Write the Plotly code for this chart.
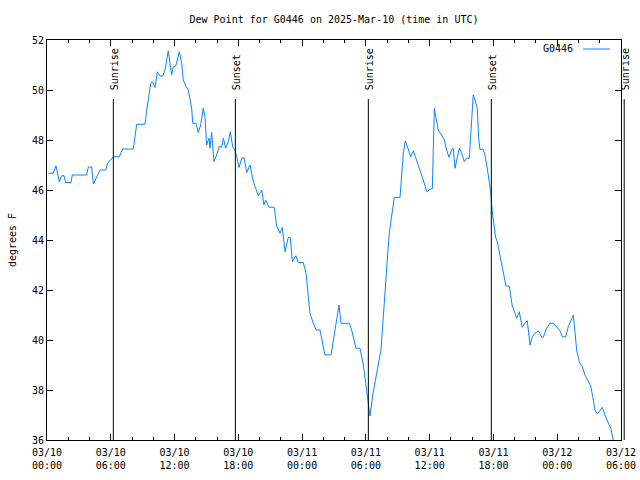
import plotly.graph_objects as go
import pandas as pd

# hours since 2025-03-10 00:00 UTC
hours = [0.12, 0.59, 0.85, 1.16, 1.38, 1.60, 1.76, 2.26, 2.38, 3.73,
         3.89, 4.20, 4.36, 4.83, 4.99, 5.52, 5.71, 6.24, 6.80, 7.12,
         8.12, 8.44, 9.22, 9.38, 9.53, 9.76, 9.91, 10.16, 10.38, 10.63,
         10.88, 11.10, 11.26, 11.41, 11.57, 11.73, 11.88, 12.11, 12.26, 12.45,
         12.67, 12.82, 13.05, 13.29, 13.61, 13.71, 14.02, 14.23, 14.46, 14.70,
         14.86, 15.02, 15.24, 15.33, 15.49, 15.71, 15.96, 16.21, 16.43, 16.59,
         16.81, 17.06, 17.24, 17.47, 17.69, 17.85, 18.06, 18.32, 18.53, 18.79,
         19.10, 19.41, 19.88, 20.20, 20.41, 20.57, 20.88, 21.38, 21.61, 21.92,
         22.14, 22.39, 22.70, 22.89, 23.08, 23.42, 23.64, 24.11, 24.37, 24.58,
         24.74, 25.05, 25.31, 25.68, 25.84, 26.15, 26.72, 26.93, 27.19, 27.47,
         27.66, 28.44, 28.66, 29.07, 29.44, 29.76, 29.98, 30.23, 30.39, 30.64,
         30.86, 31.17, 31.42, 31.64, 31.80, 32.01, 32.20, 32.36, 32.52, 32.67,
         33.21, 33.37, 33.52, 33.71, 33.84, 34.22, 34.46, 34.78, 35.09, 35.40,
         35.72, 36.03, 36.25, 36.34, 36.44, 36.60, 36.81, 37.13, 37.38, 37.60,
         37.82, 38.07, 38.22, 38.38, 38.54, 38.79, 39.01, 39.26, 39.48, 39.73,
         39.86, 39.95, 40.10, 40.26, 40.48, 40.61, 40.73, 41.04, 41.20, 41.42,
         41.58, 41.74, 41.89, 42.05, 42.21, 42.36, 42.45, 42.68, 42.93, 43.18,
         43.49, 43.62, 43.77, 44.03, 44.19, 44.43, 44.56, 44.71, 44.97, 45.18,
         45.44, 45.66, 45.91, 46.22, 46.54, 46.69, 47.01, 47.32, 47.63, 47.95,
         48.26, 48.48, 48.80, 49.04, 49.29, 49.51, 49.67, 49.83, 50.08, 50.36,
         50.61, 50.92, 51.15, 51.34, 51.55, 51.77, 52.02, 52.24, 52.49, 52.80,
         53.03, 53.27, 53.43]

dewpoint_f = [46.67, 46.67, 46.97, 46.33, 46.57, 46.57, 46.30, 46.30, 46.60, 46.60,
              46.92, 46.92, 46.24, 46.67, 46.80, 46.80, 47.07, 47.33, 47.33, 47.64,
              47.64, 48.63, 48.63, 49.20, 49.67, 50.27, 50.33, 50.10, 50.73, 50.56,
              50.56, 50.80, 51.20, 51.57, 51.07, 50.60, 50.93, 50.96, 51.20, 51.53,
              51.07, 50.40, 50.16, 50.00, 49.27, 48.67, 48.67, 48.30, 48.60, 49.27,
              48.93, 47.80, 48.07, 47.67, 48.30, 47.13, 47.40, 47.76, 47.70, 48.07,
              47.67, 47.93, 48.33, 47.73, 47.57, 47.33, 46.90, 47.27, 47.30, 46.70,
              47.00, 46.33, 45.77, 46.00, 45.40, 45.60, 45.31, 45.31, 44.56, 44.27,
              44.50, 43.53, 44.10, 44.10, 43.13, 43.37, 43.10, 43.10, 42.67, 41.87,
              41.07, 40.67, 40.40, 40.40, 40.00, 39.40, 39.40, 40.00, 40.80, 41.40,
              40.67, 40.67, 40.40, 39.67, 39.67, 39.00, 38.27, 37.47, 36.96, 37.80,
              38.27, 39.00, 39.60, 40.93, 42.07, 43.20, 44.27, 44.80, 45.31, 45.70,
              45.70, 46.67, 47.47, 47.97, 47.80, 47.33, 47.57, 47.20, 46.80, 46.40,
              45.93, 46.03, 46.05, 48.47, 49.27, 48.87, 48.40, 48.20, 48.00, 47.60,
              47.31, 47.60, 47.67, 46.87, 47.20, 47.67, 47.47, 47.13, 47.27, 47.27,
              48.16, 48.80, 49.80, 49.60, 49.27, 48.07, 47.63, 47.63, 47.40, 46.87,
              46.47, 45.93, 45.13, 44.67, 44.10, 43.93, 43.73, 43.20, 42.67, 42.16,
              42.16, 41.67, 41.36, 41.07, 40.87, 41.13, 40.90, 40.51, 40.67, 40.77,
              39.80, 40.13, 40.27, 40.37, 40.11, 40.11, 40.47, 40.67, 40.67, 40.53,
              40.37, 40.13, 40.13, 40.53, 40.80, 41.00, 40.33, 39.60, 39.13, 38.93,
              38.60, 38.33, 38.16, 37.73, 37.20, 37.04, 37.20, 37.31, 37.00, 36.73,
              36.47, 36.00, 35.70]

sun_event_hours = [6.24, 17.72, 30.23, 41.80, 54.30]
sun_event_labels = ["Sunrise", "Sunset", "Sunrise", "Sunset", "Sunrise"]

y_ticks = [36, 38, 40, 42, 44, 46, 48, 50, 52]
series_name = "G0446"
title_text = "Dew Point for G0446 on 2025-Mar-10 (time in UTC)"

SPAN_H = 54
start = pd.Timestamp("2025-03-10 00:00")
end = start + pd.Timedelta(hours=SPAN_H)
times = start + pd.to_timedelta(hours, unit="h")

FONT = "DejaVu Sans Mono"
LINE_COLOR = "#0a84ff"

fig = go.Figure()
fig.add_trace(go.Scatter(x=times, y=dewpoint_f, mode="lines",
                         line=dict(color=LINE_COLOR, width=1),
                         name=series_name, showlegend=False))

shapes = []
annotations = []
for h, lab in zip(sun_event_hours, sun_event_labels):
    frac = h / SPAN_H  # position along the time axis (paper fraction)
    shapes.append(dict(type="line", xref="paper", yref="paper", x0=frac, x1=frac,
                       y0=0, y1=0.8525, line=dict(color="black", width=1)))
    annotations.append(dict(text=lab, x=frac, xref="paper", y=0.87, yref="paper",
                            xanchor="center", yanchor="bottom", textangle=-90,
                            showarrow=False, xshift=1,
                            font=dict(family=FONT, size=10, color="black")))

# legend (gnuplot style: label then sample)
annotations.append(dict(text=series_name, x=0.92, xref="paper", y=0.9775,
                        yref="paper", xanchor="right", yanchor="middle",
                        showarrow=False,
                        font=dict(family=FONT, size=10, color="black")))
shapes.append(dict(type="line", xref="paper", yref="paper", x0=0.934, x1=0.981,
                   y0=0.9775, y1=0.9775, line=dict(color=LINE_COLOR, width=1)))

fig.update_layout(
    width=640, height=480,
    margin=dict(l=47, r=19, t=40, b=40, pad=0, autoexpand=False),
    paper_bgcolor="white", plot_bgcolor="white",
    font=dict(family=FONT, size=10, color="black"),
    title=dict(text=title_text, x=0.5, xref="paper", xanchor="center",
               y=1 - 19 / 480, yref="container", yanchor="middle",
               font=dict(family=FONT, size=10, color="black")),
    shapes=shapes, annotations=annotations,
    xaxis=dict(type="date", range=[start, end], tick0=start,
               dtick=6 * 3600 * 1000, tickformat="%m/%d<br>%H:%M",
               ticks="inside", ticklen=6, tickcolor="black",
               ticklabelstandoff=3, automargin=False,
               showline=True, linecolor="black", linewidth=1, mirror="ticks",
               showgrid=False, zeroline=False,
               minor=dict(dtick=2 * 3600 * 1000, ticks="inside", ticklen=3,
                          tickcolor="black", showgrid=False)),
    yaxis=dict(range=[36, 52], tickvals=y_ticks, ticks="inside", ticklen=6,
               tickcolor="black", showline=True, linecolor="black",
               linewidth=1, mirror="ticks", showgrid=False, zeroline=False,
               automargin=False,
               title=dict(text="degrees F", standoff=13,
                          font=dict(family=FONT, size=10, color="black"))),
)

fig.write_html("out.html")
